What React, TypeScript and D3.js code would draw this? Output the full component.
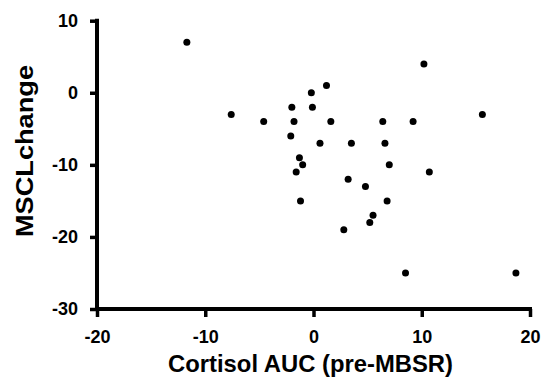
import * as d3 from "d3";
import { useEffect, useRef } from "react";

const cortisolAuc = [
  10.2, 1.2, -0.2, -2, -0.1, -4.6, -1.8, 1.6, 6.4, 9.2, 15.6, -2.1, 0.6, 3.5,
  6.6, -1.3, -1.0, 7.0, -1.6, 10.7, 3.2, 4.8, -1.2, 6.8, 5.5, 5.2, 2.8, 8.5,
  18.7, -11.7, -7.6,
];
const msclChange = [
  4, 1, 0, -2, -2, -4, -4, -4, -4, -4, -3, -6, -7, -7, -7, -9, -10, -10, -11,
  -11, -12, -13, -15, -15, -17, -18, -19, -25, -25, 7, -3,
];
const xTicks = [-20, -10, 0, 10, 20];
const yTicks = [10, 0, -10, -20, -30];

const W = 543;
const H = 379;
const FONT = "'Liberation Sans', Arial, sans-serif";

function Scatter() {
  const svgRef = useRef<SVGSVGElement>(null);

  useEffect(() => {
    const svg = d3.select(svgRef.current);
    svg.selectAll("*").remove();

    const x = d3.scaleLinear().domain([-20, 20]).range([97, 530]);
    const y = d3.scaleLinear().domain([-30, 10]).range([309, 20.7]);

    // hyphen instead of d3's unicode minus, like the original
    const fmt = (d: any) => String(d);

    const xAxis = d3.axisBottom(x).tickValues(xTicks).tickFormat(fmt).tickSize(8).tickPadding(13).tickSizeOuter(0);
    const gx = svg.append("g").attr("transform", `translate(0,${y(-30)})`).call(xAxis);
    const yAxis = d3.axisLeft(y).tickValues(yTicks).tickFormat(fmt).tickSize(7).tickPadding(13).tickSizeOuter(0);
    const gy = svg.append("g").attr("transform", `translate(${x(-20)},0)`).call(yAxis);

    [gx, gy].forEach((g) => {
      g.selectAll(".domain").remove();
      g.selectAll(".tick line").attr("stroke", "#000").attr("stroke-width", 3.5);
      g.selectAll(".tick text")
        .attr("fill", "#000")
        .style("font-family", FONT)
        .style("font-weight", "bold")
        .style("font-size", "18px");
    });
    gx.selectAll(".tick text").attr("dy", "0.71em");
    gy.selectAll(".tick text").attr("x", -19);

    // axis lines
    const axisLines = svg.append("g").attr("stroke", "#000").attr("stroke-width", 4).attr("stroke-linecap", "square");
    axisLines.append("line").attr("x1", x(-20)).attr("x2", x(20)).attr("y1", y(-30)).attr("y2", y(-30));
    axisLines.append("line").attr("x1", x(-20)).attr("x2", x(-20)).attr("y1", y(-30)).attr("y2", y(10));

    svg
      .append("g")
      .selectAll("circle")
      .data(cortisolAuc)
      .enter()
      .append("circle")
      .attr("cx", (d) => x(d))
      .attr("cy", (d, i) => y(msclChange[i]))
      .attr("r", 3.5)
      .attr("fill", "#000");

    svg
      .append("text")
      .attr("x", 310.5)
      .attr("y", 372)
      .attr("text-anchor", "middle")
      .attr("textLength", 285)
      .attr("lengthAdjust", "spacingAndGlyphs")
      .style("font-family", FONT)
      .style("font-weight", "bold")
      .style("font-size", "24px")
      .text("Cortisol AUC (pre-MBSR)");

    svg
      .append("text")
      .attr("transform", `translate(33,151) rotate(-90)`)
      .attr("text-anchor", "middle")
      .attr("textLength", 172)
      .attr("lengthAdjust", "spacingAndGlyphs")
      .style("font-family", FONT)
      .style("font-weight", "bold")
      .style("font-size", "24px")
      .text("MSCLchange");
  }, []);

  return (
    <svg
      ref={svgRef}
      width={W}
      height={H}
      style={{ position: "absolute", left: 0, top: 0, background: "#fff" }}
    ></svg>
  );
}

export default function App() {
  return <Scatter />;
}
